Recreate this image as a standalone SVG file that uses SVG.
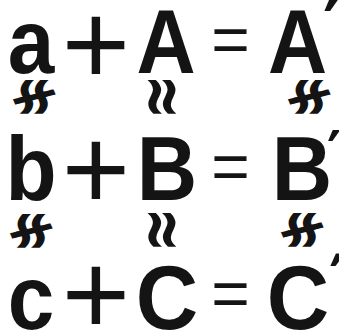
<svg xmlns="http://www.w3.org/2000/svg" width="339" height="334" viewBox="0 0 339 334">
<style>
.L{font-family:"Liberation Sans",Arial,sans-serif;font-weight:bold;font-size:91px;fill:#141414;text-anchor:middle}
.op{font-family:"Liberation Sans",Arial,sans-serif;font-weight:normal;fill:#141414;text-anchor:middle}
.pr{font-family:"DejaVu Sans",sans-serif;font-weight:bold}
.sym{font-family:"DejaVu Sans",sans-serif;font-weight:bold;font-size:54px;fill:#141414;text-anchor:middle;dominant-baseline:central}
</style>
<rect width="339" height="334" fill="#fff"/>
<g id="row1">
<text class="L" transform="translate(31,73) scale(0.92,1)">a</text>
<text class="op" x="96" y="84" font-size="117">+</text>
<text class="L" transform="translate(166,73) scale(0.9,1)">A</text>
<text class="op" x="230.5" y="62" font-size="66">=</text>
<text class="L" transform="translate(297.5,73) scale(0.9,1)">A<tspan class="pr" x="39" y="-18" font-size="80">′</tspan></text>
<text class="sym" transform="translate(32,97) scale(-1.3,1) rotate(90)">≉</text>
<text class="sym" transform="translate(164,97) scale(1.3,1) rotate(90)">≈</text>
<text class="sym" transform="translate(307,97) scale(-1.3,1) rotate(90)">≉</text>
</g>
<g id="row2">
<text class="L" transform="translate(31,200) scale(0.92,1)">b</text>
<text class="op" x="96" y="209" font-size="117">+</text>
<text class="L" transform="translate(167,200) scale(0.92,1)">B</text>
<text class="op" x="230.5" y="189" font-size="66">=</text>
<text class="L" transform="translate(302,200) scale(0.92,1)">B<tspan class="pr" x="35" y="-26" font-size="60">′</tspan></text>
<text class="sym" transform="translate(29,231) scale(-1.3,1) rotate(90)">≉</text>
<text class="sym" transform="translate(164,230) scale(1.3,1) rotate(90)">≈</text>
<text class="sym" transform="translate(300,230) scale(-1.3,1) rotate(90)">≉</text>
</g>
<g id="row3">
<text class="L" transform="translate(31,329) scale(0.92,1)">c</text>
<text class="op" x="96" y="334" font-size="117">+</text>
<text class="L" transform="translate(167,329) scale(0.95,1)">C</text>
<text class="op" x="230.5" y="316" font-size="66">=</text>
<text class="L" transform="translate(298,329) scale(0.95,1)">C<tspan class="pr" x="42" y="-25" font-size="70">′</tspan></text>
</g>
</svg>
